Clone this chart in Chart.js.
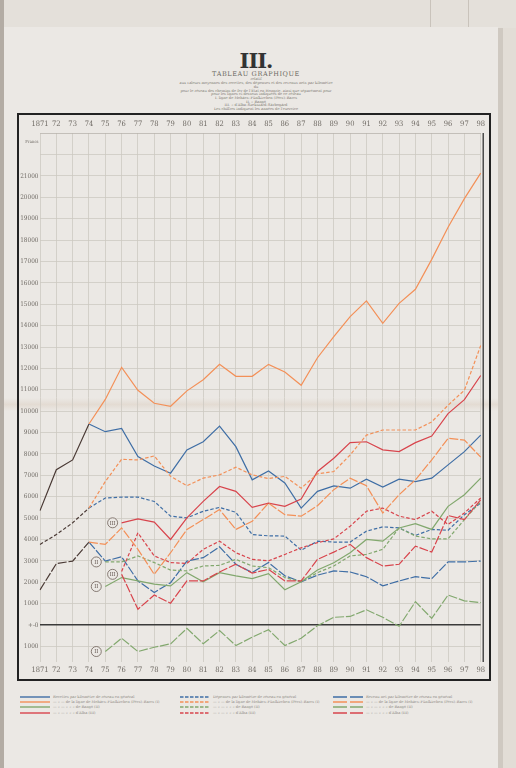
<!DOCTYPE html>
<html>
<head>
<meta charset="utf-8">
<script src="https://cdn.jsdelivr.net/npm/chart.js@4.4.0/dist/chart.umd.min.js"></script>
<style>
body{margin:0;width:516px;height:768px;background:#d8d3cc;position:relative;overflow:hidden;font-family:"DejaVu Serif","Liberation Serif",serif;color:#6a6660}
.a{position:absolute}
#sheet{left:4px;top:27px;width:494px;height:741px;background:#ebe8e4}
#fold{left:4px;top:398px;width:494px;height:13px;background:linear-gradient(rgba(200,175,150,0),rgba(200,175,150,.22),rgba(200,175,150,0))}
#frame{left:17px;top:113px;width:474px;height:568px;border:2.5px solid #222;box-sizing:border-box}
#wrap{left:19px;top:115px;width:470px;height:564px}
.t{left:156px;width:200px;text-align:center;white-space:nowrap;line-height:1}
.s{font-size:3.6px;color:#7a766f}
#legend{left:0;top:695px;width:516px;height:30px}
.row{position:absolute;height:5px;white-space:nowrap;font-size:3.6px;color:#8a867f;line-height:5px}
.row svg{vertical-align:middle;margin-right:3px}
</style>
</head>
<body>
<div class="a" style="left:0;top:0;width:516px;height:28px;background:#e4e0da"></div>
<div class="a" style="left:430px;top:0;width:1px;height:28px;background:#c9c3bb"></div>
<div class="a" style="left:468px;top:0;width:1px;height:28px;background:#c9c3bb"></div>
<div class="a" style="left:0;top:0;width:4px;height:768px;background:#b3aca4"></div>
<div class="a" style="left:498px;top:28px;width:5px;height:740px;background:#cfc9c1"></div>
<div class="a" style="left:503px;top:28px;width:13px;height:740px;background:#e2ddd6"></div>
<div class="a" id="sheet"></div>
<div class="a" id="fold"></div>

<div class="a t" style="top:50px;font-size:21px;font-weight:bold;color:#333;letter-spacing:-1px">III.</div>
<div class="a t" style="top:71px;font-size:6.5px;letter-spacing:.6px;color:#6c6862">TABLEAU GRAPHIQUE</div>
<div class="a t s" style="top:78px">relatif</div>
<div class="a t s" style="top:82px">aux valeurs moyennes des recettes, des dépenses et des revenus nets par kilomètre</div>
<div class="a t s" style="top:86px">du</div>
<div class="a t s" style="top:89.5px">pour le réseau des chemins de fer de l'État en Hongrie, ainsi que séparément pour</div>
<div class="a t s" style="top:93px">pour les lignes ci-dessous indiquées de ce réseau</div>
<div class="a t s" style="top:97px">I. ligne de Mohács–Fünfkirchen (Pécs)–Barcs</div>
<div class="a t s" style="top:100.5px">II. » Bangó</div>
<div class="a t s" style="top:104px">III. » d'Alba–Szekszárd–Sárbogárd</div>
<div class="a t s" style="top:108px">Les chiffres indiquent les années de l'exercice</div>

<div class="a" id="frame"></div>
<div class="a" id="wrap"><canvas id="c" width="470" height="564"></canvas></div>
<div class="a" id="legend"></div>

<script>
// years (tick labels)
const years = ['1871','72','73','74','75','76','77','78','79','80','81','82','83','84',
  '85','86','87','88','89','90','91','92','93','94','95','96','97','98'];

// recettes par km (francs)
const revGeneral = [5350,7260,7720,9400,9040,9190,7880,7440,7100,8190,8570,9300,8340,6790,
  7200,6640,5470,6250,6510,6400,6820,6450,6820,6710,6870,7490,8110,8880];
const revLineI = [null,null,null,9400,10550,12050,10980,10370,10230,10950,11470,12190,11630,11630,
  12190,11830,11210,12500,13490,14420,15160,14110,15040,15700,17100,18600,19940,21130];
const revLineII = [null,null,null,null,1800,2220,2060,1910,1830,2450,2020,2450,2300,2170,
  2400,1650,2020,2570,2910,3380,4000,3920,4540,4740,4470,5550,6090,6870];
const revLineIII = [null,null,null,null,null,4780,4960,4810,4000,5010,5780,6480,6250,5500,
  5700,5550,5890,7180,7800,8530,8570,8190,8110,8530,8840,9890,10540,11670];

// dépenses par km
const expGeneral = [3770,4230,4780,5470,5940,5980,5980,5780,5090,5010,5320,5500,5270,4230,
  4170,4160,3500,3920,3880,3880,4390,4590,4540,4190,4470,4430,5160,5700];
const expLineI = [null,null,null,5470,6710,7750,7720,7910,6950,6510,6870,7020,7380,7020,
  6850,6950,6400,7070,7180,7950,8880,9120,9120,9120,9500,10280,10980,13070];
const expLineII = [null,null,null,null,2950,2950,3230,2920,2570,2530,2760,2790,3070,2760,
  2680,2220,2020,2450,2760,3230,3300,3540,4540,4160,4030,4030,4930,5780];
const expLineIII = [null,null,null,null,null,2500,4310,3230,2920,2880,3540,3920,3380,3070,
  3000,3300,3610,3850,4030,4620,5320,5470,5090,4930,5320,4700,5240,5940];

// revenu net par km
const netGeneral = [1640,2870,2990,3880,2990,3190,2060,1520,1980,2990,3150,3660,2840,2450,
  2920,2300,2020,2330,2530,2480,2260,1830,2060,2260,2170,2950,2950,2990];
const netLineI = [null,null,null,3880,3770,4540,3540,2370,3380,4470,4930,5400,4470,4850,
  5700,5160,5090,5580,6330,6870,6510,5240,6090,6790,7720,8730,8650,7850];
const netLineII = [null,null,null,null,-1240,-620,-1240,-1040,-880,-160,-880,-260,-960,-570,
  -220,-960,-620,-30,360,400,710,360,-60,1090,310,1400,1130,1050];
const netLineIII = [null,null,null,null,null,2370,740,1400,1020,2060,2060,2480,2840,2430,
  2600,2060,2060,3070,3410,3770,3150,2760,2840,3690,3410,5120,4930,5860];

const BLUE = '#3f6ea5', ORANGE = '#f39058', GREEN = '#82a86e', RED = '#d8444c', DARK = '#4a3a35';
const DASH_EXP = [3.5, 2], DASH_NET = [9, 1.8];

function mk(label, data, color, dash, mark, common) {
  const ds = {
    label: label, data: data, borderColor: color, borderDash: dash,
    borderWidth: 1.2, pointRadius: 0, tension: 0, fill: false, spanGaps: false, mark: mark
  };
  if (common) ds.segment = { borderColor: c => c.p1DataIndex <= 3 ? DARK : undefined };
  return ds;
}

const sub = '—   »   —';
const datasets = [
  mk('Revenu net par kilomètre de réseau en général', netGeneral, BLUE, DASH_NET, null, true),
  mk(sub + '   de la ligne de Mohács–Fünfkirchen (Pécs)–Barcs (I)', netLineI, ORANGE, DASH_NET),
  mk(sub + '   »   »   de Bangó (II)', netLineII, GREEN, DASH_NET, 'II'),
  mk(sub + '   »   »   d\'Alba (III)', netLineIII, RED, DASH_NET, 'III'),
  mk('Dépenses par kilomètre de réseau en général', expGeneral, BLUE, DASH_EXP, null, true),
  mk(sub + '   de la ligne de Mohács–Fünfkirchen (Pécs)–Barcs (I)', expLineI, ORANGE, DASH_EXP),
  mk(sub + '   »   »   de Bangó (II)', expLineII, GREEN, DASH_EXP, 'II'),
  mk(sub + '   »   »   d\'Alba (III)', expLineIII, RED, DASH_EXP),
  mk('Recettes par kilomètre de réseau en général', revGeneral, BLUE, [], null, true),
  mk(sub + '   de la ligne de Mohács–Fünfkirchen (Pécs)–Barcs (I)', revLineI, ORANGE, []),
  mk(sub + '   »   »   de Bangó (II)', revLineII, GREEN, [], 'II'),
  mk(sub + '   »   »   d\'Alba (III)', revLineIII, RED, [], 'III')
];
// general series drawn last so the common 1871-74 part stays dark
datasets.sort((a, b) => (a.segment ? 1 : 0) - (b.segment ? 1 : 0));

const FRANCS = 22600;

const startMarks = {
  id: 'startMarks',
  afterDatasetsDraw(chart) {
    const ctx = chart.ctx;
    chart.data.datasets.forEach((ds, i) => {
      if (!ds.mark) return;
      const first = ds.data.findIndex(v => v !== null);
      const pt = chart.getDatasetMeta(i).data[first];
      const x = pt.x - 9, y = pt.y;
      ctx.save();
      ctx.fillStyle = '#ece9e5';
      ctx.strokeStyle = '#6d5f58';
      ctx.lineWidth = 0.8;
      ctx.beginPath(); ctx.arc(x, y, 5, 0, Math.PI * 2); ctx.fill(); ctx.stroke();
      ctx.fillStyle = '#5a4c46';
      ctx.font = '5.5px "DejaVu Serif Condensed", serif';
      ctx.textAlign = 'center'; ctx.textBaseline = 'middle';
      ctx.fillText(ds.mark, x, y + 0.3);
      ctx.restore();
    });
    // right edge of the grid
    const a = chart.chartArea;
    ctx.save();
    ctx.strokeStyle = '#333'; ctx.lineWidth = 1.3;
    ctx.beginPath(); ctx.moveTo(a.right + 2.5, a.top); ctx.lineTo(a.right + 2.5, a.bottom); ctx.stroke();
    ctx.restore();
  }
};

const FAMILY = '"DejaVu Serif Condensed", "Liberation Serif", serif';
const tickFont = { family: FAMILY, size: 7.5 };

new Chart(document.getElementById('c'), {
  type: 'line',
  data: { labels: years, datasets: datasets },
  options: {
    responsive: false,
    animation: false,
    layout: { padding: { left: 0, right: 7, top: 0, bottom: 0 } },
    plugins: { legend: { display: false }, tooltip: { enabled: false } },
    scales: {
      x: {
        type: 'category', position: 'bottom', offset: false,
        grid: { color: '#cdc9c2', lineWidth: 0.8, drawTicks: false },
        border: { display: false },
        ticks: { color: '#6f6a64', font: tickFont, padding: 4, maxRotation: 0, autoSkip: false },
        afterFit: s => { s.height = 17; }
      },
      xTop: {
        type: 'category', position: 'top', offset: false,
        grid: { drawOnChartArea: false, drawTicks: false },
        border: { color: '#b9b4ad', width: 0.8 },
        ticks: { color: '#6f6a64', font: tickFont, padding: 4, maxRotation: 0, autoSkip: false },
        afterFit: s => { s.height = 18; }
      },
      y: {
        min: -1730, max: 23010,
        afterBuildTicks: s => {
          const t = [];
          for (let v = -1000; v <= 22000; v += 1000) t.push({ value: v });
          t.push({ value: FRANCS });
          s.ticks = t;
        },
        grid: {
          drawTicks: false,
          color: c => c.tick.value === 0 ? '#3a3a3a' : (c.tick.value === FRANCS ? 'rgba(0,0,0,0)' : '#cdc9c2'),
          lineWidth: c => c.tick.value === 0 ? 1.6 : 0.8
        },
        border: { display: false },
        ticks: {
          color: '#6f6a64', padding: 1.5,
          font: c => ({ family: FAMILY, size: c.tick && c.tick.value === FRANCS ? 4.2 : 6.4 }),
          callback: v => v === FRANCS ? 'Francs' : v === 22000 ? '' : v === 0 ? '+-0' : String(Math.abs(v))
        },
        afterFit: s => { s.width = 21; }
      }
    }
  },
  plugins: [startMarks]
});

// legend: three columns (recettes, dépenses, revenu net)
const legendCols = [
  { x: 20, dash: '', text: 'Recettes par kilomètre de réseau en général' },
  { x: 180, dash: '3.5 1.5', text: 'Dépenses par kilomètre de réseau en général' },
  { x: 333, dash: '14 3', text: 'Revenu net par kilomètre de réseau en général' }
];
const legendColors = [BLUE, ORANGE, GREEN, RED];
const legendSub = [
  null,
  '—      »      —      de la ligne de Mohács–Fünfkirchen (Pécs)–Barcs (I)',
  '—      »      —      »    »    »    de Bangó (II)',
  '—      »      —      »    »    »    d\'Alba (III)'
];
const lg = document.getElementById('legend');
legendCols.forEach(col => {
  legendColors.forEach((color, r) => {
    const row = document.createElement('div');
    row.className = 'row';
    row.style.left = col.x + 'px';
    row.style.top = (r * 5.2) + 'px';
    const txt = r === 0 ? col.text : legendSub[r];
    row.innerHTML = '<svg width="30" height="4"><line x1="0" y1="2" x2="30" y2="2" stroke="' + color +
      '" stroke-width="1.4" stroke-dasharray="' + col.dash + '"/></svg>' + txt;
    lg.appendChild(row);
  });
});
</script>
</body>
</html>
